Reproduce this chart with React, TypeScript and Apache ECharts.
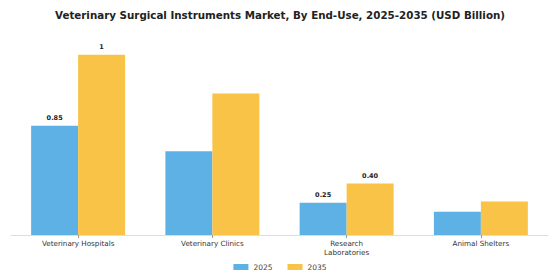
import React, { useEffect, useRef } from "react";
import * as echarts from "echarts";

const categories = ["Veterinary Hospitals", "Veterinary Clinics", "Research\nLaboratories", "Animal Shelters"];
const seriesNames = ["2025", "2035"];
const values2025 = [0.85, 0.65, 0.25, 0.18];
const values2035 = [1.4, 1.1, 0.4, 0.26];
const labels2025 = ["0.85", "", "0.25", ""];
const labels2035 = ["1", "", "0.40", ""];
const colors = ["#5DB1E4", "#F8C347"];

export default function App() {
  const ref = useRef<HTMLDivElement>(null);
  useEffect(() => {
    if (!ref.current) return;
    const chart = echarts.init(ref.current, undefined, { renderer: "svg" });
    const mk = (name: string, data: number[], labels: string[], color: string) => ({
      name,
      type: "bar",
      data,
      barGap: "0%",
      barCategoryGap: "30%",
      itemStyle: { color },
      label: {
        show: true,
        position: "top",
        distance: 4,
        fontSize: 6.5,
        fontWeight: "bold",
        color: "#222",
        fontFamily: "DejaVu Sans",
        formatter: (p: any) => labels[p.dataIndex],
      },
    });
    chart.setOption({
      animation: false,
      backgroundColor: "#ffffff",
      title: {
        text: "Veterinary Surgical Instruments Market, By End-Use, 2025-2035 (USD Billion)",
        left: "center",
        top: 5,
        textStyle: { fontSize: 10.3, fontWeight: "bold", color: "#222", fontFamily: "DejaVu Sans" },
      },
      legend: {
        data: seriesNames,
        bottom: 4,
        left: "center",
        itemWidth: 15,
        itemHeight: 6,
        itemGap: 15,
        icon: "rect",
        textStyle: { fontSize: 7.5, color: "#444", fontFamily: "DejaVu Sans" },
      },
      grid: { left: 11, right: 12, top: 42, bottom: 45, containLabel: false },
      xAxis: {
        type: "category",
        data: categories,
        axisLine: { lineStyle: { color: "#ddd" } },
        axisTick: { show: true, alignWithLabel: true, length: 3, lineStyle: { color: "#999" } },
        axisLabel: { fontSize: 7.2, color: "#333", fontFamily: "DejaVu Sans", margin: 4, lineHeight: 9, interval: 0 },
      },
      yAxis: {
        type: "value",
        min: 0,
        max: 1.5,
        show: false,
        splitLine: { show: false },
      },
      series: [
        mk(seriesNames[0], values2025, labels2025, colors[0]),
        mk(seriesNames[1], values2035, labels2035, colors[1]),
      ],
    });
    return () => chart.dispose();
  }, []);
  return <div ref={ref} style={{ width: 560, height: 280, position: "absolute", left: 0, top: 0 }} />;
}
